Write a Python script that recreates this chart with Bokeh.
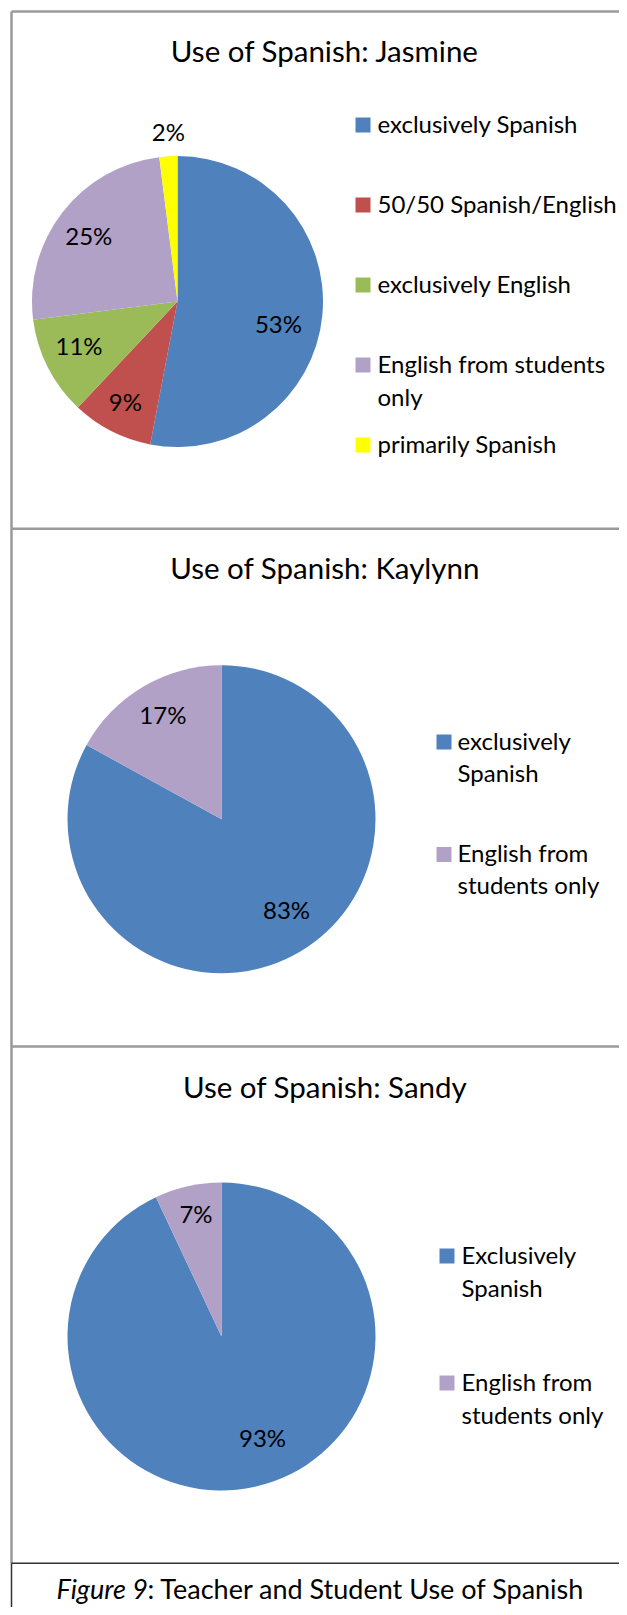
import math
from bokeh.plotting import figure
from bokeh.models import Range1d, ColumnDataSource
from bokeh.core.properties import value
from bokeh.embed import file_html
from bokeh.resources import INLINE

# ---------------- data ----------------
jasmine_categories = ["exclusively Spanish", "50/50 Spanish/English", "exclusively English",
                      "English from students only", "primarily Spanish"]
jasmine_values = [53, 9, 11, 25, 2]
jasmine_legend_lines = [["exclusively Spanish"], ["50/50 Spanish/English"], ["exclusively English"],
                        ["English from students", "only"], ["primarily Spanish"]]

kaylynn_categories = ["exclusively Spanish", "English from students only"]
kaylynn_values = [83, 17]
kaylynn_legend_lines = [["exclusively", "Spanish"], ["English from", "students only"]]

sandy_categories = ["Exclusively Spanish", "English from students only"]
sandy_values = [93, 7]
sandy_legend_lines = [["Exclusively", "Spanish"], ["English from", "students only"]]

titles = ["Use of Spanish: Jasmine", "Use of Spanish: Kaylynn", "Use of Spanish: Sandy"]
caption_italic = "Figure 9"
caption_rest = ": Teacher and Student Use of Spanish"

# ---------------- styles ----------------
COLORS = {
    "exclusively Spanish": "#4F81BD",
    "Exclusively Spanish": "#4F81BD",
    "50/50 Spanish/English": "#C0504D",
    "exclusively English": "#9BBB59",
    "English from students only": "#B2A1C7",
    "primarily Spanish": "#FFFF00",
}
FONT = "Lato"
PW, PH = 619, 1607      # canvas size
TXT_DY = 2.5            # "middle" baseline renders slightly low


def Y(y):
    return PH - y


# layout for each panel (pixel coords, y downward); label placement as
# (radius fraction, angle nudge in degrees) relative to each slice's mid angle
panels = [
    dict(cats=jasmine_categories, vals=jasmine_values, legend=jasmine_legend_lines, title=titles[0],
         title_y=50, cx=177, cy=301, r=145.5, sq_x=355, txt_x=377, sq0=124.5, step=80.0, lh=33.5,
         lab=[(0.713, 8), (0.788, 0), (0.75, 1.5), (0.748, -2.4), (1.155, 0.5)]),
    dict(cats=kaylynn_categories, vals=kaylynn_values, legend=kaylynn_legend_lines, title=titles[1],
         title_y=567, cx=221, cy=818.7, r=154, sq_x=436, txt_x=457, sq0=741.5, step=112.5, lh=32,
         lab=[(0.736, -4.4), (0.766, 0.8)]),
    dict(cats=sandy_categories, vals=sandy_values, legend=sandy_legend_lines, title=titles[2],
         title_y=1085.6, cx=221, cy=1336, r=154, sq_x=439, txt_x=461, sq0=1255.5, step=127, lh=33,
         lab=[(0.724, -9), (0.797, 0.6)]),
]

p = figure(width=PW, height=PH, x_range=Range1d(0, PW), y_range=Range1d(0, PH),
           output_backend="svg", toolbar_location=None, min_border=0)
p.axis.visible = False
p.grid.visible = False
p.outline_line_color = None
p.background_fill_color = "white"
p.border_fill_color = "white"

# table borders
GRAY = "#9A9A9A"
DARK = "#333333"
p.segment(x0=[11, 11, 11, 11], y0=[Y(11), Y(528.3), Y(1046), Y(11)],
          x1=[PW, PW, PW, 11], y1=[Y(11), Y(528.3), Y(1046), Y(1562.7)],
          line_color=GRAY, line_width=2.5)
p.segment(x0=[11, 11], y0=[Y(1562.7), Y(1562.7)], x1=[PW, 11], y1=[Y(1562.7), Y(PH)],
          line_color=DARK, line_width=1.5)

for pan in panels:
    vals = pan["vals"]
    total = float(sum(vals))
    starts, ends, colors, lx, ly, labels = [], [], [], [], [], []
    cum = 0.0
    for k, (cat, v) in enumerate(zip(pan["cats"], vals)):
        c0 = cum / total
        cum += v
        c1 = cum / total
        starts.append(math.pi / 2 - 2 * math.pi * c1)
        ends.append(math.pi / 2 - 2 * math.pi * c0)
        colors.append(COLORS[cat])
        frac, nudge = pan["lab"][k]
        mid = math.pi / 2 - 2 * math.pi * (c0 + c1) / 2 - math.radians(nudge)
        lx.append(pan["cx"] + frac * pan["r"] * math.cos(mid))
        ly.append(Y(pan["cy"]) + frac * pan["r"] * math.sin(mid) + TXT_DY)
        labels.append(f"{v}%")
    src = ColumnDataSource(dict(x=[pan["cx"]] * len(vals), y=[Y(pan["cy"])] * len(vals),
                                s=starts, e=ends, c=colors))
    p.wedge(x="x", y="y", radius=pan["r"], start_angle="s", end_angle="e",
            fill_color="c", line_color=None, source=src)
    p.text(x=lx, y=ly, text=labels, text_font=value(FONT), text_font_size="24px",
           text_align="center", text_baseline="middle", text_color="black")
    # title
    p.text(x=[324.6], y=[Y(pan["title_y"])], text=[pan["title"]], text_font=value(FONT),
           text_font_size="29.5px", text_align="center", text_baseline="middle", text_color="black")
    # legend
    for i, (cat, lines) in enumerate(zip(pan["cats"], pan["legend"])):
        sq_c = pan["sq0"] + i * pan["step"]
        p.rect(x=[pan["sq_x"] + 7.5], y=[Y(sq_c)], width=15, height=15,
               fill_color=COLORS[cat], line_color=None)
        for j, line in enumerate(lines):
            p.text(x=[pan["txt_x"]], y=[Y(sq_c - 2 + j * pan["lh"])], text=[line], text_font=value(FONT),
                   text_font_size="24px", text_align="left", text_baseline="middle",
                   text_color="black")

# caption
p.text(x=[56], y=[Y(1588)], text=[caption_italic], text_font=value(FONT), text_font_size="27px",
       text_font_style="italic", text_align="left", text_baseline="middle", text_color="black")
p.text(x=[147], y=[Y(1588)], text=[caption_rest], text_font=value(FONT), text_font_size="27px",
       text_align="left", text_baseline="middle", text_color="black")

open("out.html", "w").write(file_html(p, INLINE))
